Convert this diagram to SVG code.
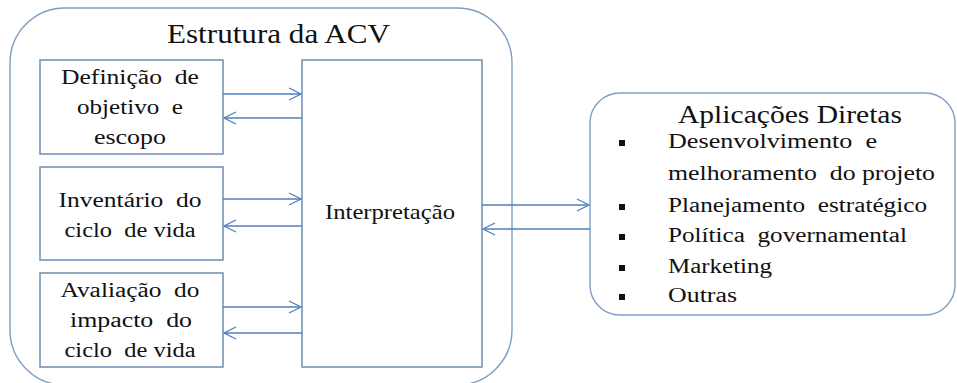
<svg xmlns="http://www.w3.org/2000/svg" width="957" height="383" viewBox="0 0 957 383">
  <defs>
    <marker id="chev" viewBox="0 0 14 14" markerWidth="14" markerHeight="14" refX="13" refY="7" orient="auto" markerUnits="userSpaceOnUse">
      <path d="M1,1 L13,7 L1,13" fill="none" stroke="#4f81bd" stroke-width="1.3"/>
    </marker>
  </defs>
  <style>
    .frame { fill: #ffffff; stroke: #7f9ec4; stroke-width: 1.4; }
    .box { fill: #ffffff; stroke: #6f8db3; stroke-width: 1.5; }
    text { fill: #111111; }
    .c { text-anchor: middle; }
    .link { fill: none; stroke: #4f81bd; stroke-width: 1.3; marker-end: url(#chev); }
    .bullet { fill: #111111; }
  </style>
  <rect width="957" height="383" fill="#ffffff"/>

  <g font-family="Liberation Serif, DejaVu Serif, Tinos, Times New Roman, Times, serif">
  <!-- LCA framework container -->
  <g id="estrutura">
    <rect class="frame" x="10" y="8" width="502" height="377" rx="55" ry="55"/>
    <text x="167" y="43" font-size="27" textLength="223" lengthAdjust="spacingAndGlyphs">Estrutura da ACV</text>
  </g>

  <g id="definicao">
    <rect class="box" x="40" y="60" width="183" height="94"/>
    <text class="c" x="130" y="84" font-size="20" textLength="138" lengthAdjust="spacingAndGlyphs" xml:space="preserve">Definição  de</text>
    <text class="c" x="130" y="114" font-size="20" textLength="106" lengthAdjust="spacingAndGlyphs" xml:space="preserve">objetivo  e</text>
    <text class="c" x="130" y="144" font-size="20" textLength="72" lengthAdjust="spacingAndGlyphs">escopo</text>
  </g>

  <g id="inventario">
    <rect class="box" x="40" y="167" width="183" height="93"/>
    <text class="c" x="130" y="207" font-size="20" textLength="143" lengthAdjust="spacingAndGlyphs" xml:space="preserve">Inventário  do</text>
    <text class="c" x="130" y="237" font-size="20" textLength="131" lengthAdjust="spacingAndGlyphs" xml:space="preserve">ciclo  de vida</text>
  </g>

  <g id="avaliacao">
    <rect class="box" x="40" y="273" width="183" height="94"/>
    <text class="c" x="130" y="297" font-size="20" textLength="139" lengthAdjust="spacingAndGlyphs" xml:space="preserve">Avaliação  do</text>
    <text class="c" x="131" y="327" font-size="20" textLength="122" lengthAdjust="spacingAndGlyphs" xml:space="preserve">impacto  do</text>
    <text class="c" x="130" y="357" font-size="20" textLength="131" lengthAdjust="spacingAndGlyphs" xml:space="preserve">ciclo  de vida</text>
  </g>

  <g id="interpretacao">
    <rect class="box" x="302" y="60" width="180" height="307"/>
    <text x="325" y="219" font-size="22" textLength="130" lengthAdjust="spacingAndGlyphs">Interpretação</text>
  </g>

  <!-- Direct applications -->
  <g id="aplicacoes">
    <rect class="frame" x="590" y="93" width="365" height="222" rx="30" ry="30"/>
    <text x="678" y="123" font-size="25" textLength="224" lengthAdjust="spacingAndGlyphs">Aplicações Diretas</text>
    <rect class="bullet" x="619" y="140" width="6" height="6"/>
    <text x="668" y="148" font-size="20" textLength="209" lengthAdjust="spacingAndGlyphs" xml:space="preserve">Desenvolvimento  e</text>
    <text x="668" y="180" font-size="20" textLength="267" lengthAdjust="spacingAndGlyphs" xml:space="preserve">melhoramento  do projeto</text>
    <rect class="bullet" x="619" y="204" width="6" height="6"/>
    <text x="668" y="212" font-size="20" textLength="259" lengthAdjust="spacingAndGlyphs" xml:space="preserve">Planejamento  estratégico</text>
    <rect class="bullet" x="619" y="234" width="6" height="6"/>
    <text x="668" y="242" font-size="20" textLength="239" lengthAdjust="spacingAndGlyphs" xml:space="preserve">Política  governamental</text>
    <rect class="bullet" x="619" y="265" width="6" height="6"/>
    <text x="668" y="273" font-size="20" textLength="104" lengthAdjust="spacingAndGlyphs">Marketing</text>
    <rect class="bullet" x="619" y="294" width="6" height="6"/>
    <text x="668" y="302" font-size="20" textLength="69" lengthAdjust="spacingAndGlyphs">Outras</text>
  </g>
  </g>

  <!-- Two-way exchanges between stages -->
  <g id="connectors">
    <line class="link" x1="223" y1="94" x2="301" y2="94"/>
    <line class="link" x1="302" y1="118" x2="224" y2="118"/>
    <line class="link" x1="223" y1="199" x2="301" y2="199"/>
    <line class="link" x1="302" y1="226" x2="224" y2="226"/>
    <line class="link" x1="223" y1="307" x2="301" y2="307"/>
    <line class="link" x1="302" y1="333" x2="224" y2="333"/>
    <line class="link" x1="482" y1="205" x2="589" y2="205"/>
    <line class="link" x1="590" y1="229" x2="483" y2="229"/>
  </g>
</svg>
